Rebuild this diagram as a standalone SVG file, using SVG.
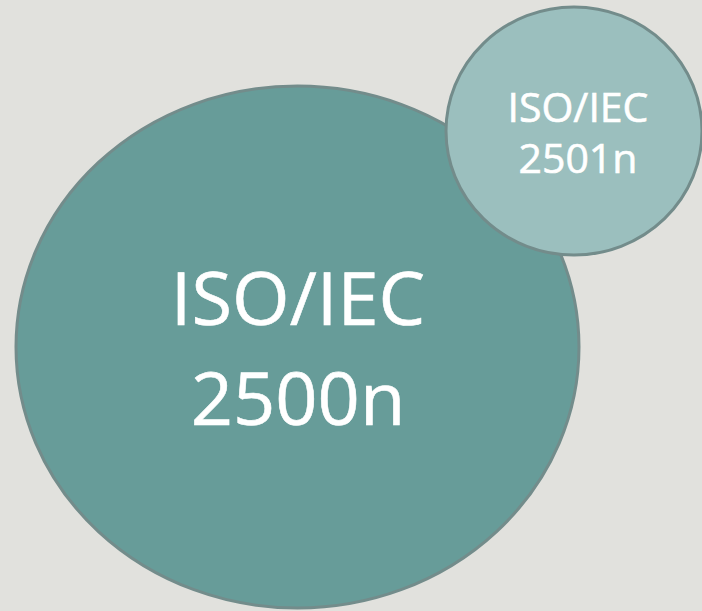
<svg xmlns="http://www.w3.org/2000/svg" width="702" height="611" viewBox="0 0 702 611">
<style>
.t{font-family:"Open Sans","Noto Sans",sans-serif;fill:#ffffff;text-anchor:middle;stroke:#ffffff;stroke-width:0.6}
</style>
<rect width="702" height="611" fill="#E1E1DD"/>
<g id="big">
<ellipse cx="297.5" cy="347" rx="281.5" ry="261" fill="#679C99" stroke="#738C8B" stroke-width="3"/>
<text class="t" x="298" y="325" font-size="74">ISO/IEC</text>
<text class="t" x="298" y="425" font-size="74">2500n</text>
</g>
<g id="small">
<ellipse cx="574" cy="131" rx="128" ry="124" fill="#9BBFBE" stroke="#738C8B" stroke-width="3"/>
<text class="t" x="578" y="122" font-size="41">ISO/IEC</text>
<text class="t" x="578" y="173" font-size="41">2501n</text>
</g>
<g id="connectors"/>
</svg>
